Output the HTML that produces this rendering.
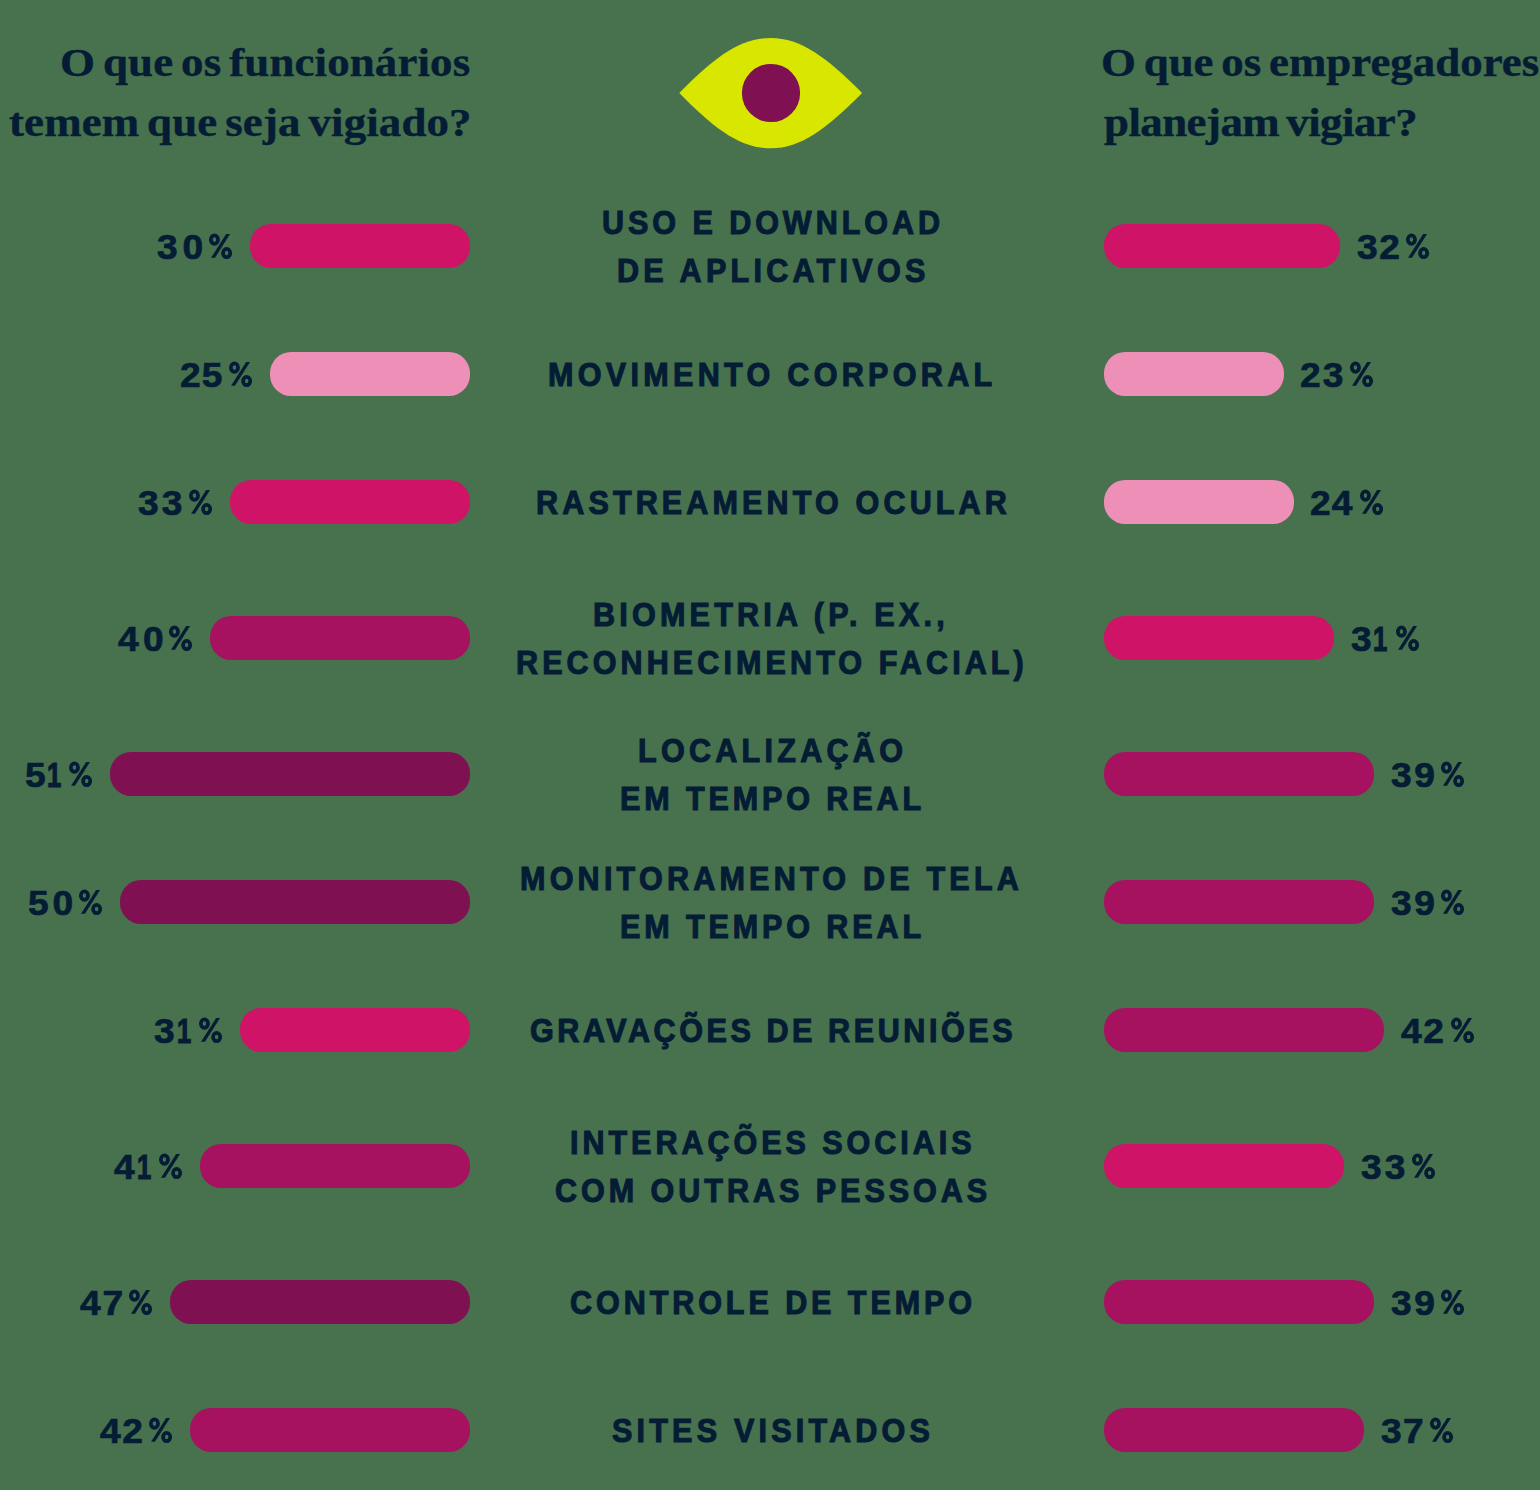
<!DOCTYPE html>
<html lang="pt"><head><meta charset="utf-8"><title>Vigilância no trabalho</title>
<style>
html,body{margin:0;padding:0}
body{width:1540px;height:1490px;background:#48714e;position:relative;overflow:hidden;font-family:"Liberation Sans",sans-serif;color:#041c34}
.t{position:absolute;white-space:nowrap;line-height:1;transform-origin:0 0;font-weight:bold}
.l{font-size:33.2px;-webkit-text-stroke:1.1px #041c34}
.p{font-size:35px;-webkit-text-stroke:0.7px #041c34}
.x{color:transparent;-webkit-text-stroke:0}
.k{position:absolute;overflow:visible}
.p1{-webkit-text-stroke:1.2px #041c34}
.h{font-family:"Liberation Serif",serif;font-size:39px;-webkit-text-stroke:0.4px #041c34}
.b{position:absolute;height:44px;border-radius:21px}
.eye{position:absolute;left:670px;top:30px}
</style></head><body>

<svg class="eye" width="200" height="130" viewBox="670 30 200 130"><path d="M679.3 93 C 714 57.5, 740 38, 770.7 38 C 801 38, 827 57.5, 862.1 93 C 827 128.5, 801 148.3, 770.7 148.3 C 740 148.3, 714 128.5, 679.3 93 Z" fill="#d8e600"/><circle cx="771" cy="93" r="29.1" fill="#7f1052"/></svg>
<div class="b" style="left:250px;top:224px;width:220px;background:#cf1467"></div>
<div class="b" style="left:1104px;top:224px;width:236px;background:#cf1467"></div>
<div class="b" style="left:270px;top:352px;width:200px;background:#ee8fb8"></div>
<div class="b" style="left:1104px;top:352px;width:180px;background:#ee8fb8"></div>
<div class="b" style="left:230px;top:480px;width:240px;background:#cf1467"></div>
<div class="b" style="left:1104px;top:480px;width:190px;background:#ee8fb8"></div>
<div class="b" style="left:210px;top:616px;width:260px;background:#a6125f"></div>
<div class="b" style="left:1104px;top:616px;width:230px;background:#cf1467"></div>
<div class="b" style="left:110px;top:752px;width:360px;background:#7f1052"></div>
<div class="b" style="left:1104px;top:752px;width:270px;background:#a6125f"></div>
<div class="b" style="left:120px;top:880px;width:350px;background:#7f1052"></div>
<div class="b" style="left:1104px;top:880px;width:270px;background:#a6125f"></div>
<div class="b" style="left:240px;top:1008px;width:230px;background:#cf1467"></div>
<div class="b" style="left:1104px;top:1008px;width:280px;background:#a6125f"></div>
<div class="b" style="left:200px;top:1144px;width:270px;background:#a6125f"></div>
<div class="b" style="left:1104px;top:1144px;width:240px;background:#cf1467"></div>
<div class="b" style="left:170px;top:1280px;width:300px;background:#7f1052"></div>
<div class="b" style="left:1104px;top:1280px;width:270px;background:#a6125f"></div>
<div class="b" style="left:190px;top:1408px;width:280px;background:#a6125f"></div>
<div class="b" style="left:1104px;top:1408px;width:260px;background:#a6125f"></div>
<div class="t l" style="left:601.97px;top:205.60px;letter-spacing:4.291px;transform:scaleX(0.92)">USO E DOWNLOAD</div>
<div class="t l" style="left:616.59px;top:253.60px;letter-spacing:4.643px;transform:scaleX(0.92)">DE APLICATIVOS</div>
<div class="t p" style="left:156.92px;top:228.57px;letter-spacing:4.638px;transform:scaleX(1.06)">30<span class="x">%</span></div>
<div class="t p" style="left:1356.62px;top:228.57px;letter-spacing:1.544px;transform:scaleX(1.06)">32<span class="x">%</span></div>
<div class="t l" style="left:548.19px;top:357.60px;letter-spacing:4.685px;transform:scaleX(0.92)">MOVIMENTO CORPORAL</div>
<div class="t p" style="left:180.14px;top:356.57px;letter-spacing:1.054px;transform:scaleX(1.06)">25<span class="x">%</span></div>
<div class="t p" style="left:1300.04px;top:356.57px;letter-spacing:2.091px;transform:scaleX(1.06)">23<span class="x">%</span></div>
<div class="t l" style="left:535.59px;top:485.60px;letter-spacing:4.498px;transform:scaleX(0.92)">RASTREAMENTO OCULAR</div>
<div class="t p" style="left:138.12px;top:484.57px;letter-spacing:2.959px;transform:scaleX(1.06)">33<span class="x">%</span></div>
<div class="t p" style="left:1310.04px;top:484.57px;letter-spacing:0.998px;transform:scaleX(1.06)">24<span class="x">%</span></div>
<div class="t l" style="left:593.49px;top:597.60px;letter-spacing:4.588px;transform:scaleX(0.92)">BIOMETRIA (P. EX.,</div>
<div class="t l" style="left:516.29px;top:645.60px;letter-spacing:4.449px;transform:scaleX(0.92)">RECONHECIMENTO FACIAL)</div>
<div class="t p" style="left:117.50px;top:620.57px;letter-spacing:4.092px;transform:scaleX(1.06)">40<span class="x">%</span></div>
<div class="t p" style="left:1350.62px;top:620.57px;letter-spacing:0.000px;transform:scaleX(1.06)">3</div>
<div class="t p p1" style="left:1373.00px;top:620.57px;letter-spacing:0.000px;transform:scaleX(0.7314)">1<span class="x">%</span></div>
<div class="t l" style="left:638.39px;top:733.60px;letter-spacing:4.641px;transform:scaleX(0.92)">LOCALIZAÇÃO</div>
<div class="t l" style="left:620.09px;top:781.60px;letter-spacing:4.229px;transform:scaleX(0.92)">EM TEMPO REAL</div>
<div class="t p" style="left:24.62px;top:756.57px;letter-spacing:0.000px;transform:scaleX(1.06)">5</div>
<div class="t p p1" style="left:46.60px;top:756.57px;letter-spacing:0.000px;transform:scaleX(0.7314)">1<span class="x">%</span></div>
<div class="t p" style="left:1390.62px;top:756.57px;letter-spacing:2.488px;transform:scaleX(1.06)">39<span class="x">%</span></div>
<div class="t l" style="left:519.79px;top:861.60px;letter-spacing:4.586px;transform:scaleX(0.92)">MONITORAMENTO DE TELA</div>
<div class="t l" style="left:620.09px;top:909.60px;letter-spacing:4.229px;transform:scaleX(0.92)">EM TEMPO REAL</div>
<div class="t p" style="left:28.02px;top:884.57px;letter-spacing:3.601px;transform:scaleX(1.06)">50<span class="x">%</span></div>
<div class="t p" style="left:1390.62px;top:884.57px;letter-spacing:2.488px;transform:scaleX(1.06)">39<span class="x">%</span></div>
<div class="t l" style="left:529.95px;top:1013.60px;letter-spacing:3.885px;transform:scaleX(0.92)">GRAVAÇÕES DE REUNIÕES</div>
<div class="t p" style="left:154.22px;top:1012.57px;letter-spacing:0.000px;transform:scaleX(1.06)">3</div>
<div class="t p p1" style="left:176.60px;top:1012.57px;letter-spacing:0.000px;transform:scaleX(0.7314)">1<span class="x">%</span></div>
<div class="t p" style="left:1401.20px;top:1012.57px;letter-spacing:1.564px;transform:scaleX(1.06)">42<span class="x">%</span></div>
<div class="t l" style="left:569.99px;top:1125.60px;letter-spacing:4.309px;transform:scaleX(0.92)">INTERAÇÕES SOCIAIS</div>
<div class="t l" style="left:555.15px;top:1173.60px;letter-spacing:4.315px;transform:scaleX(0.92)">COM OUTRAS PESSOAS</div>
<div class="t p" style="left:114.30px;top:1148.57px;letter-spacing:0.000px;transform:scaleX(1.06)">4</div>
<div class="t p p1" style="left:136.60px;top:1148.57px;letter-spacing:0.000px;transform:scaleX(0.7314)">1<span class="x">%</span></div>
<div class="t p" style="left:1360.62px;top:1148.57px;letter-spacing:2.959px;transform:scaleX(1.06)">33<span class="x">%</span></div>
<div class="t l" style="left:570.25px;top:1285.60px;letter-spacing:4.268px;transform:scaleX(0.92)">CONTROLE DE TEMPO</div>
<div class="t p" style="left:80.00px;top:1284.57px;letter-spacing:1.733px;transform:scaleX(1.06)">47<span class="x">%</span></div>
<div class="t p" style="left:1390.62px;top:1284.57px;letter-spacing:2.488px;transform:scaleX(1.06)">39<span class="x">%</span></div>
<div class="t l" style="left:612.42px;top:1413.60px;letter-spacing:4.564px;transform:scaleX(0.92)">SITES VISITADOS</div>
<div class="t p" style="left:99.60px;top:1412.57px;letter-spacing:1.564px;transform:scaleX(1.06)">42<span class="x">%</span></div>
<div class="t p" style="left:1380.62px;top:1412.57px;letter-spacing:1.337px;transform:scaleX(1.06)">37<span class="x">%</span></div>
<div class="t h" style="left:59.60px;top:43.24px;letter-spacing:0.133px;word-spacing:-3px;transform:scaleX(1.15)">O que os funcionários</div>
<div class="t h" style="left:8.70px;top:103.04px;letter-spacing:0.128px;word-spacing:-3px;transform:scaleX(1.15)">temem que seja vigiado?</div>
<div class="t h" style="left:1101.10px;top:43.24px;letter-spacing:0.018px;word-spacing:-3px;transform:scaleX(1.15)">O que os empregadores</div>
<div class="t h" style="left:1103.50px;top:103.04px;letter-spacing:-0.469px;word-spacing:-3px;transform:scaleX(1.15)">planejam vigiar?</div>
<svg class="k" style="left:209.30px;top:233.00px" width="23.1" height="26" viewBox="0 0 23.1 26" aria-hidden="true"><g fill="none" stroke="#041c34" stroke-width="3.7"><ellipse cx="5.44" cy="6.6" rx="3.6" ry="4.25"/><ellipse cx="17.65" cy="20.06" rx="3.6" ry="4.15"/><path d="M17.15 .9H21.05L5.95 24.85H2.05Z" fill="#041c34" stroke="none"/></g></svg>
<svg class="k" style="left:1406.30px;top:233.00px" width="23.1" height="26" viewBox="0 0 23.1 26" aria-hidden="true"><g fill="none" stroke="#041c34" stroke-width="3.7"><ellipse cx="5.44" cy="6.6" rx="3.6" ry="4.25"/><ellipse cx="17.65" cy="20.06" rx="3.6" ry="4.15"/><path d="M17.15 .9H21.05L5.95 24.85H2.05Z" fill="#041c34" stroke="none"/></g></svg>
<svg class="k" style="left:229.30px;top:361.00px" width="23.1" height="26" viewBox="0 0 23.1 26" aria-hidden="true"><g fill="none" stroke="#041c34" stroke-width="3.7"><ellipse cx="5.44" cy="6.6" rx="3.6" ry="4.25"/><ellipse cx="17.65" cy="20.06" rx="3.6" ry="4.15"/><path d="M17.15 .9H21.05L5.95 24.85H2.05Z" fill="#041c34" stroke="none"/></g></svg>
<svg class="k" style="left:1350.30px;top:361.00px" width="23.1" height="26" viewBox="0 0 23.1 26" aria-hidden="true"><g fill="none" stroke="#041c34" stroke-width="3.7"><ellipse cx="5.44" cy="6.6" rx="3.6" ry="4.25"/><ellipse cx="17.65" cy="20.06" rx="3.6" ry="4.15"/><path d="M17.15 .9H21.05L5.95 24.85H2.05Z" fill="#041c34" stroke="none"/></g></svg>
<svg class="k" style="left:189.30px;top:489.00px" width="23.1" height="26" viewBox="0 0 23.1 26" aria-hidden="true"><g fill="none" stroke="#041c34" stroke-width="3.7"><ellipse cx="5.44" cy="6.6" rx="3.6" ry="4.25"/><ellipse cx="17.65" cy="20.06" rx="3.6" ry="4.15"/><path d="M17.15 .9H21.05L5.95 24.85H2.05Z" fill="#041c34" stroke="none"/></g></svg>
<svg class="k" style="left:1360.30px;top:489.00px" width="23.1" height="26" viewBox="0 0 23.1 26" aria-hidden="true"><g fill="none" stroke="#041c34" stroke-width="3.7"><ellipse cx="5.44" cy="6.6" rx="3.6" ry="4.25"/><ellipse cx="17.65" cy="20.06" rx="3.6" ry="4.15"/><path d="M17.15 .9H21.05L5.95 24.85H2.05Z" fill="#041c34" stroke="none"/></g></svg>
<svg class="k" style="left:169.30px;top:625.00px" width="23.1" height="26" viewBox="0 0 23.1 26" aria-hidden="true"><g fill="none" stroke="#041c34" stroke-width="3.7"><ellipse cx="5.44" cy="6.6" rx="3.6" ry="4.25"/><ellipse cx="17.65" cy="20.06" rx="3.6" ry="4.15"/><path d="M17.15 .9H21.05L5.95 24.85H2.05Z" fill="#041c34" stroke="none"/></g></svg>
<svg class="k" style="left:1395.70px;top:625.00px" width="23.1" height="26" viewBox="0 0 23.1 26" aria-hidden="true"><g fill="none" stroke="#041c34" stroke-width="3.7"><ellipse cx="5.44" cy="6.6" rx="3.6" ry="4.25"/><ellipse cx="17.65" cy="20.06" rx="3.6" ry="4.15"/><path d="M17.15 .9H21.05L5.95 24.85H2.05Z" fill="#041c34" stroke="none"/></g></svg>
<svg class="k" style="left:69.30px;top:761.00px" width="23.1" height="26" viewBox="0 0 23.1 26" aria-hidden="true"><g fill="none" stroke="#041c34" stroke-width="3.7"><ellipse cx="5.44" cy="6.6" rx="3.6" ry="4.25"/><ellipse cx="17.65" cy="20.06" rx="3.6" ry="4.15"/><path d="M17.15 .9H21.05L5.95 24.85H2.05Z" fill="#041c34" stroke="none"/></g></svg>
<svg class="k" style="left:1441.30px;top:761.00px" width="23.1" height="26" viewBox="0 0 23.1 26" aria-hidden="true"><g fill="none" stroke="#041c34" stroke-width="3.7"><ellipse cx="5.44" cy="6.6" rx="3.6" ry="4.25"/><ellipse cx="17.65" cy="20.06" rx="3.6" ry="4.15"/><path d="M17.15 .9H21.05L5.95 24.85H2.05Z" fill="#041c34" stroke="none"/></g></svg>
<svg class="k" style="left:79.30px;top:889.00px" width="23.1" height="26" viewBox="0 0 23.1 26" aria-hidden="true"><g fill="none" stroke="#041c34" stroke-width="3.7"><ellipse cx="5.44" cy="6.6" rx="3.6" ry="4.25"/><ellipse cx="17.65" cy="20.06" rx="3.6" ry="4.15"/><path d="M17.15 .9H21.05L5.95 24.85H2.05Z" fill="#041c34" stroke="none"/></g></svg>
<svg class="k" style="left:1441.30px;top:889.00px" width="23.1" height="26" viewBox="0 0 23.1 26" aria-hidden="true"><g fill="none" stroke="#041c34" stroke-width="3.7"><ellipse cx="5.44" cy="6.6" rx="3.6" ry="4.25"/><ellipse cx="17.65" cy="20.06" rx="3.6" ry="4.15"/><path d="M17.15 .9H21.05L5.95 24.85H2.05Z" fill="#041c34" stroke="none"/></g></svg>
<svg class="k" style="left:199.30px;top:1017.00px" width="23.1" height="26" viewBox="0 0 23.1 26" aria-hidden="true"><g fill="none" stroke="#041c34" stroke-width="3.7"><ellipse cx="5.44" cy="6.6" rx="3.6" ry="4.25"/><ellipse cx="17.65" cy="20.06" rx="3.6" ry="4.15"/><path d="M17.15 .9H21.05L5.95 24.85H2.05Z" fill="#041c34" stroke="none"/></g></svg>
<svg class="k" style="left:1450.90px;top:1017.00px" width="23.1" height="26" viewBox="0 0 23.1 26" aria-hidden="true"><g fill="none" stroke="#041c34" stroke-width="3.7"><ellipse cx="5.44" cy="6.6" rx="3.6" ry="4.25"/><ellipse cx="17.65" cy="20.06" rx="3.6" ry="4.15"/><path d="M17.15 .9H21.05L5.95 24.85H2.05Z" fill="#041c34" stroke="none"/></g></svg>
<svg class="k" style="left:159.30px;top:1153.00px" width="23.1" height="26" viewBox="0 0 23.1 26" aria-hidden="true"><g fill="none" stroke="#041c34" stroke-width="3.7"><ellipse cx="5.44" cy="6.6" rx="3.6" ry="4.25"/><ellipse cx="17.65" cy="20.06" rx="3.6" ry="4.15"/><path d="M17.15 .9H21.05L5.95 24.85H2.05Z" fill="#041c34" stroke="none"/></g></svg>
<svg class="k" style="left:1411.80px;top:1153.00px" width="23.1" height="26" viewBox="0 0 23.1 26" aria-hidden="true"><g fill="none" stroke="#041c34" stroke-width="3.7"><ellipse cx="5.44" cy="6.6" rx="3.6" ry="4.25"/><ellipse cx="17.65" cy="20.06" rx="3.6" ry="4.15"/><path d="M17.15 .9H21.05L5.95 24.85H2.05Z" fill="#041c34" stroke="none"/></g></svg>
<svg class="k" style="left:129.30px;top:1289.00px" width="23.1" height="26" viewBox="0 0 23.1 26" aria-hidden="true"><g fill="none" stroke="#041c34" stroke-width="3.7"><ellipse cx="5.44" cy="6.6" rx="3.6" ry="4.25"/><ellipse cx="17.65" cy="20.06" rx="3.6" ry="4.15"/><path d="M17.15 .9H21.05L5.95 24.85H2.05Z" fill="#041c34" stroke="none"/></g></svg>
<svg class="k" style="left:1441.30px;top:1289.00px" width="23.1" height="26" viewBox="0 0 23.1 26" aria-hidden="true"><g fill="none" stroke="#041c34" stroke-width="3.7"><ellipse cx="5.44" cy="6.6" rx="3.6" ry="4.25"/><ellipse cx="17.65" cy="20.06" rx="3.6" ry="4.15"/><path d="M17.15 .9H21.05L5.95 24.85H2.05Z" fill="#041c34" stroke="none"/></g></svg>
<svg class="k" style="left:149.30px;top:1417.00px" width="23.1" height="26" viewBox="0 0 23.1 26" aria-hidden="true"><g fill="none" stroke="#041c34" stroke-width="3.7"><ellipse cx="5.44" cy="6.6" rx="3.6" ry="4.25"/><ellipse cx="17.65" cy="20.06" rx="3.6" ry="4.15"/><path d="M17.15 .9H21.05L5.95 24.85H2.05Z" fill="#041c34" stroke="none"/></g></svg>
<svg class="k" style="left:1429.50px;top:1417.00px" width="23.1" height="26" viewBox="0 0 23.1 26" aria-hidden="true"><g fill="none" stroke="#041c34" stroke-width="3.7"><ellipse cx="5.44" cy="6.6" rx="3.6" ry="4.25"/><ellipse cx="17.65" cy="20.06" rx="3.6" ry="4.15"/><path d="M17.15 .9H21.05L5.95 24.85H2.05Z" fill="#041c34" stroke="none"/></g></svg>
</body></html>
